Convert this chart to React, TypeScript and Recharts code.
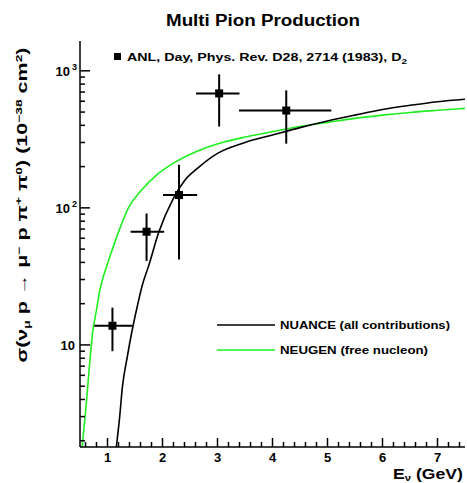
import React from "react"
import {
  ComposedChart,
  Line,
  Scatter,
  ErrorBar,
  XAxis,
  YAxis,
} from "recharts"

// NUANCE (all contributions) curve
const nuanceE = [1.16, 1.22, 1.27, 1.36, 1.45, 1.54, 1.63, 1.75, 1.93, 2.2, 2.4, 2.64, 3.0, 3.5, 4.0, 4.5, 5.0, 5.5, 6.0, 6.5, 7.0, 7.5]
const nuanceSigma = [1.8, 2.95, 4.9, 8.2, 12.9, 19, 27, 38, 66, 118, 158, 195, 250, 300, 340, 385, 430, 475, 522, 560, 595, 620]

// NEUGEN (free nucleon) curve
const neugenE = [0.54, 0.62, 0.67, 0.73, 0.8, 0.86, 0.98, 1.09, 1.22, 1.38, 1.6, 1.9, 2.21, 2.64, 3.12, 3.53, 4.0, 4.5, 5.0, 5.5, 6.0, 6.5, 7.0, 7.5]
const neugenSigma = [1.8, 3.95, 6.9, 12.3, 18, 25, 37, 50, 70, 100, 132, 175, 213, 260, 302, 330, 360, 392, 420, 450, 475, 497, 515, 532]

// ANL data points
const anlE = [1.09, 1.71, 2.3, 3.03, 4.25]
const anlSigma = [13.8, 67, 124, 684, 513]
const anlELow = [0.76, 1.42, 2.01, 2.61, 3.39]
const anlEHigh = [1.45, 2.03, 2.63, 3.4, 5.07]
const anlSigmaLow = [9.0, 41, 42, 392, 294]
const anlSigmaHigh = [18.7, 91, 206, 942, 720]

const xDomain = [0.5, 7.5]
const yDomain = [1.8, 1650]
const xMajor = [1, 2, 3, 4, 5, 6, 7]
const yMajor = [10, 100, 1000]

const xTicks: number[] = []
for (let i = 3; i <= 37; i++) xTicks.push(Math.round(i * 20) / 100)
const yTicks: number[] = []
for (const d of [1, 10, 100]) for (let m = 1; m <= 9; m++) if (m * d >= 2) yTicks.push(m * d)
yTicks.push(1000)

const nuanceData = nuanceE.map((e, i) => ({ e, sigma: nuanceSigma[i] }))
const neugenData = neugenE.map((e, i) => ({ e, sigma: neugenSigma[i] }))
const anlData = anlE.map((e, i) => ({
  e,
  sigma: anlSigma[i],
  errX: [e - anlELow[i], anlEHigh[i] - e],
  errY: [anlSigma[i] - anlSigmaLow[i], anlSigmaHigh[i] - anlSigma[i]],
}))

const font = "'Liberation Sans', Arial, sans-serif"
const green = "#1ef01e"

function XTick(props: any) {
  const { x, y, payload } = props
  const v = payload.value
  const major = xMajor.some((m) => Math.abs(m - v) < 1e-6)
  return (
    <g>
      <line x1={x} x2={x} y1={y} y2={y - (major ? 9 : 5)} stroke="#000" strokeWidth={1.5} />
      {major && (
        <text x={x} y={y + 15} textAnchor="middle" fontSize={13} fontWeight="bold" fontFamily={font} fill="#000">
          {v}
        </text>
      )}
    </g>
  )
}

function YTick(props: any) {
  const { x, y, payload } = props
  const v = payload.value
  const major = yMajor.includes(v)
  return (
    <g>
      <line x1={x} x2={x + (major ? 10 : 5)} y1={y} y2={y} stroke="#000" strokeWidth={1.5} />
      {v === 10 && (
        <text x={x - 5} y={y + 5} textAnchor="end" fontSize={13} fontWeight="bold" fontFamily={font} fill="#000">
          10
        </text>
      )}
      {(v === 100 || v === 1000) && (
        <text x={x - 10} y={y + 5} textAnchor="end" fontSize={13} fontWeight="bold" fontFamily={font} fill="#000">
          10
        </text>
      )}
      {(v === 100 || v === 1000) && (
        <text x={x - 3} y={y - 1} textAnchor="end" fontSize={9} fontWeight="bold" fontFamily={font} fill="#000">
          {v === 100 ? "2" : "3"}
        </text>
      )}
    </g>
  )
}

function Square(props: any) {
  const { cx, cy } = props
  return <rect x={cx - 4} y={cy - 4} width={8} height={8} fill="#000" />
}

export default function App() {
  return (
    <div style={{ position: "absolute", left: 0, top: 0, width: 467, height: 483, background: "#fff" }}>
      <ComposedChart width={467} height={483} margin={{ top: 41, right: 2, bottom: 6, left: 20 }}>
        <XAxis
          dataKey="e"
          type="number"
          domain={xDomain}
          ticks={xTicks}
          interval={0}
          allowDataOverflow
          tickLine={false}
          tickSize={0}
          tickMargin={0}
          height={30}
          axisLine={{ stroke: "#000", strokeWidth: 1.5 }}
          tick={<XTick />}
        />
        <XAxis
          xAxisId="top"
          orientation="top"
          type="number"
          domain={xDomain}
          allowDataOverflow
          height={0}
          tick={false}
          tickLine={false}
          axisLine={{ stroke: "#000", strokeWidth: 1.5 }}
        />
        <YAxis
          type="number"
          scale="log"
          domain={yDomain}
          ticks={yTicks}
          interval={0}
          allowDataOverflow
          tickLine={false}
          tickSize={0}
          tickMargin={0}
          width={60}
          axisLine={{ stroke: "#000", strokeWidth: 1.5 }}
          tick={<YTick />}
        />
        <YAxis
          yAxisId="right"
          orientation="right"
          type="number"
          scale="log"
          domain={yDomain}
          allowDataOverflow
          width={0}
          tick={false}
          tickLine={false}
          axisLine={{ stroke: "#000", strokeWidth: 1.5 }}
        />
        <Line data={neugenData} dataKey="sigma" type="monotone" stroke={green} strokeWidth={1.6} dot={false} isAnimationActive={false} />
        <Line data={nuanceData} dataKey="sigma" type="monotone" stroke="#000" strokeWidth={1.6} dot={false} isAnimationActive={false} />
        <Scatter data={anlData} dataKey="sigma" shape={<Square />} isAnimationActive={false}>
          <ErrorBar dataKey="errY" direction="y" width={0} stroke="#000" strokeWidth={2} isAnimationActive={false} />
          <ErrorBar dataKey="errX" direction="x" width={0} stroke="#000" strokeWidth={2} isAnimationActive={false} />
        </Scatter>
      </ComposedChart>
      <svg width={467} height={483} style={{ position: "absolute", left: 0, top: 0, pointerEvents: "none" }}>
        <text x={263} y={26} textAnchor="middle" fontSize={16} fontWeight="bold" fontFamily={font} fill="#000" textLength={194} lengthAdjust="spacingAndGlyphs">
          Multi Pion Production
        </text>
        <rect x={114} y={53} width={7} height={7} fill="#000" />
        <text x={127} y={61} fontSize={11.5} fontWeight="bold" fontFamily={font} fill="#000" textLength={280} lengthAdjust="spacingAndGlyphs">
          ANL, Day, Phys. Rev. D28, 2714 (1983), D<tspan fontSize={8} dy={3}>2</tspan>
        </text>
        <line x1={217} x2={275} y1={325} y2={325} stroke="#000" strokeWidth={1.6} />
        <text x={280} y={329} fontSize={11.5} fontWeight="bold" fontFamily={font} fill="#000" textLength={170} lengthAdjust="spacingAndGlyphs">
          NUANCE (all contributions)
        </text>
        <line x1={217} x2={275} y1={350} y2={350} stroke={green} strokeWidth={1.6} />
        <text x={280} y={354} fontSize={11.5} fontWeight="bold" fontFamily={font} fill="#000" textLength={148} lengthAdjust="spacingAndGlyphs">
          NEUGEN (free nucleon)
        </text>
        <text x={393} y={479} fontSize={14} fontWeight="bold" fontFamily={font} fill="#000" textLength={70} lengthAdjust="spacingAndGlyphs">
          E<tspan fontSize={9} dy={1.5}>ν</tspan>
          <tspan dy={-1.5}> (GeV)</tspan>
        </text>
        <text
          x={0}
          y={0}
          transform="translate(27 205) rotate(-90)"
          textAnchor="middle"
          fontSize={14}
          fontWeight="bold"
          fontFamily={font}
          fill="#000"
          textLength={315}
          lengthAdjust="spacingAndGlyphs"
        >
          σ(ν<tspan fontSize={9} dy={3}>μ</tspan>
          <tspan dy={-3}> p → μ</tspan>
          <tspan fontSize={9} dy={-5}>−</tspan>
          <tspan dy={5}> p π</tspan>
          <tspan fontSize={9} dy={-5}>+</tspan>
          <tspan dy={5}> π</tspan>
          <tspan fontSize={9} dy={-5}>0</tspan>
          <tspan dy={5}>) (10</tspan>
          <tspan fontSize={9} dy={-5}>−38</tspan>
          <tspan dy={5}> cm</tspan>
          <tspan fontSize={9} dy={-5}>2</tspan>
          <tspan dy={5}>)</tspan>
        </text>
      </svg>
    </div>
  )
}
